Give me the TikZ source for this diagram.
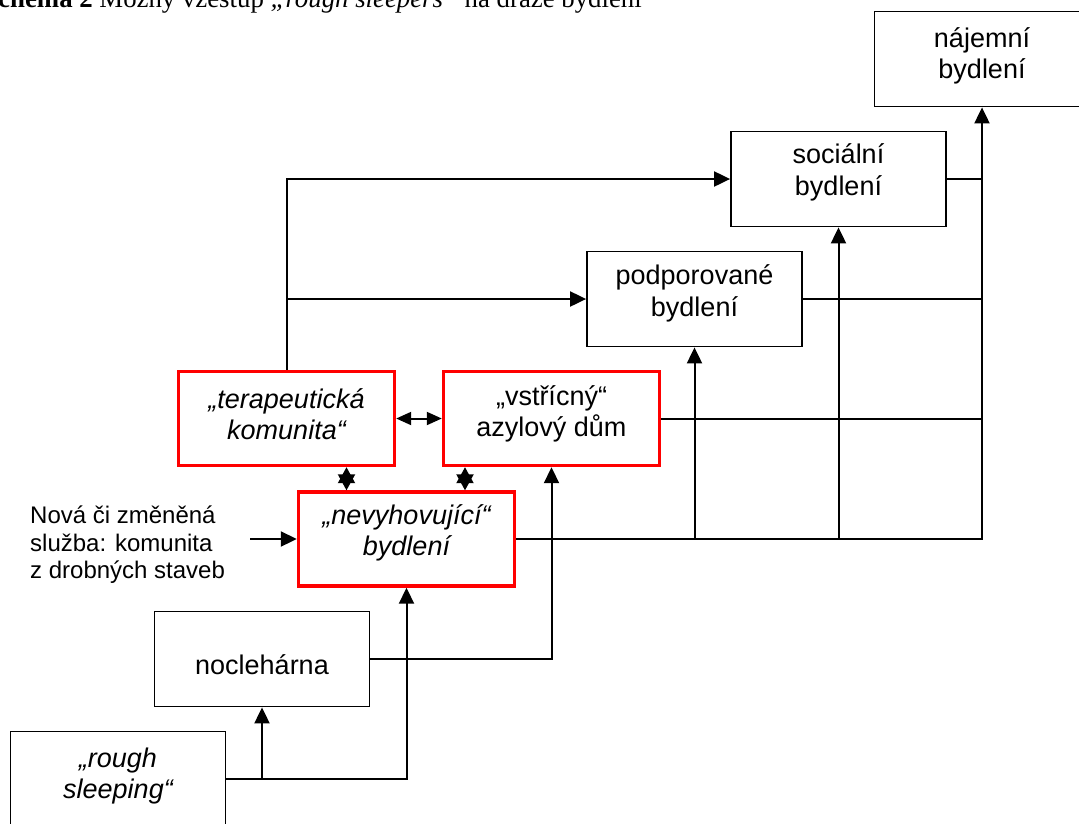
\documentclass[tikz,border=0pt]{standalone}
\usepackage{fontspec}
\setmainfont{Liberation Serif}
\newfontfamily\arialish{Liberation Sans}
\usetikzlibrary{arrows.meta}
\newcommand\boxfont{\arialish\fontsize{27}{31.5}\selectfont}
\newcommand\sidefont{\arialish\fontsize{24}{27.5}\selectfont}
\begin{document}
\begin{tikzpicture}[x=1pt,y=-1pt,
  box/.style={draw=black,line width=1.8pt,minimum width=215pt,minimum height=95pt,inner sep=0pt},
  redbox/.style={draw=red,line width=3.4pt,minimum width=216pt,minimum height=94pt,inner sep=0pt},
  lbl/.style={font=\boxfont,align=center,inner sep=0pt},
  conn/.style={line width=2pt},
  arr/.style={conn,-{Triangle[length=16pt,width=15pt]}},
  dbl/.style={conn,{Triangle[length=15pt,width=13pt]}-{Triangle[length=15pt,width=13pt]}},
  dblshort/.style={conn,{Triangle[length=16pt,width=17pt]}-{Triangle[length=16pt,width=17pt]}},
]
\useasboundingbox (0,0) rectangle (1079,823);
\clip (0,0) rectangle (1079,823);

% caption line, cut by the top edge
\node[anchor=base east,inner sep=0pt,font=\fontsize{26.8}{30}\selectfont] (title) at (642,7)
  {\textbf{Schéma 2} Možný vzestup \textit{„rough sleepers“} na dráze bydlení};

% housing stages
\node[box]    (naj)   at (982,59)      {};
\node[box]    (soc)   at (838.5,179)   {};
\node[box]    (pod)   at (694.5,299)   {};
\node[redbox] (ter)   at (286.5,418.5) {};
\node[redbox] (vst)   at (551.5,418.5) {};
\node[redbox] (nev)   at (406.5,539)   {};
\node[box]    (noc)   at (262,659)     {};
\node[box]    (rough) at (118,779)     {};

% labels
\node[lbl] (najt) at (982,56)      {nájemní\\bydlení};
\node[lbl] (soct) at (838.5,172.5) {sociální\\bydlení};
\node[lbl] (podt) at (694.5,293.5) {podporované\\bydlení};
\node[lbl,font=\boxfont\itshape] (tert) at (286.5,414) {„terapeutická\\komunita“};
\node[lbl] (vstt) at (551.5,414)   {„vstřícný“\\azylový dům};
\node[lbl,font=\boxfont\itshape] (nevt) at (406.5,533) {„nevyhovující“\\bydlení};
\node[lbl] (noct) at (262,665)     {noclehárna};
\node[lbl,font=\boxfont\itshape] (rought) at (118,776) {„rough\\sleeping“};

\node[anchor=west,align=left,inner sep=0pt,font=\sidefont] (nova) at (30,545)
  {Nová či změněná\\služba: komunita\\z drobných staveb};
\coordinate (novaout) at (250,539);

% connectors
\draw[arr] (rough.east) -| (nev.south);
\draw[arr] (rough.east -| noc.south) -- (noc.south);
\draw[arr] (noc.east) -| (vst.south);
\draw[arr] (nev.east) -| (naj.south);
\draw[arr] (nev.east -| pod.south) -- (pod.south);
\draw[arr] (nev.east -| soc.south) -- (soc.south);
\draw[conn] (vst.east) -- (vst.east -| naj.south);
\draw[conn] (pod.east) -- (pod.east -| naj.south);
\draw[conn] (soc.east) -- (soc.east -| naj.south);
\draw[arr] (ter.north) |- (soc.west);
\draw[arr] (ter.north |- pod.west) -- (pod.west);
\draw[dbl] (ter.east) -- (vst.west);
\draw[dblshort] ([xshift=-60pt]nev.north) -- ([xshift=-60pt]nev.north |- ter.south);
\draw[dblshort] ([xshift=58.5pt]nev.north) -- ([xshift=58.5pt]nev.north |- vst.south);
\draw[arr] (novaout) -- (nev.west);
\end{tikzpicture}
\end{document}
